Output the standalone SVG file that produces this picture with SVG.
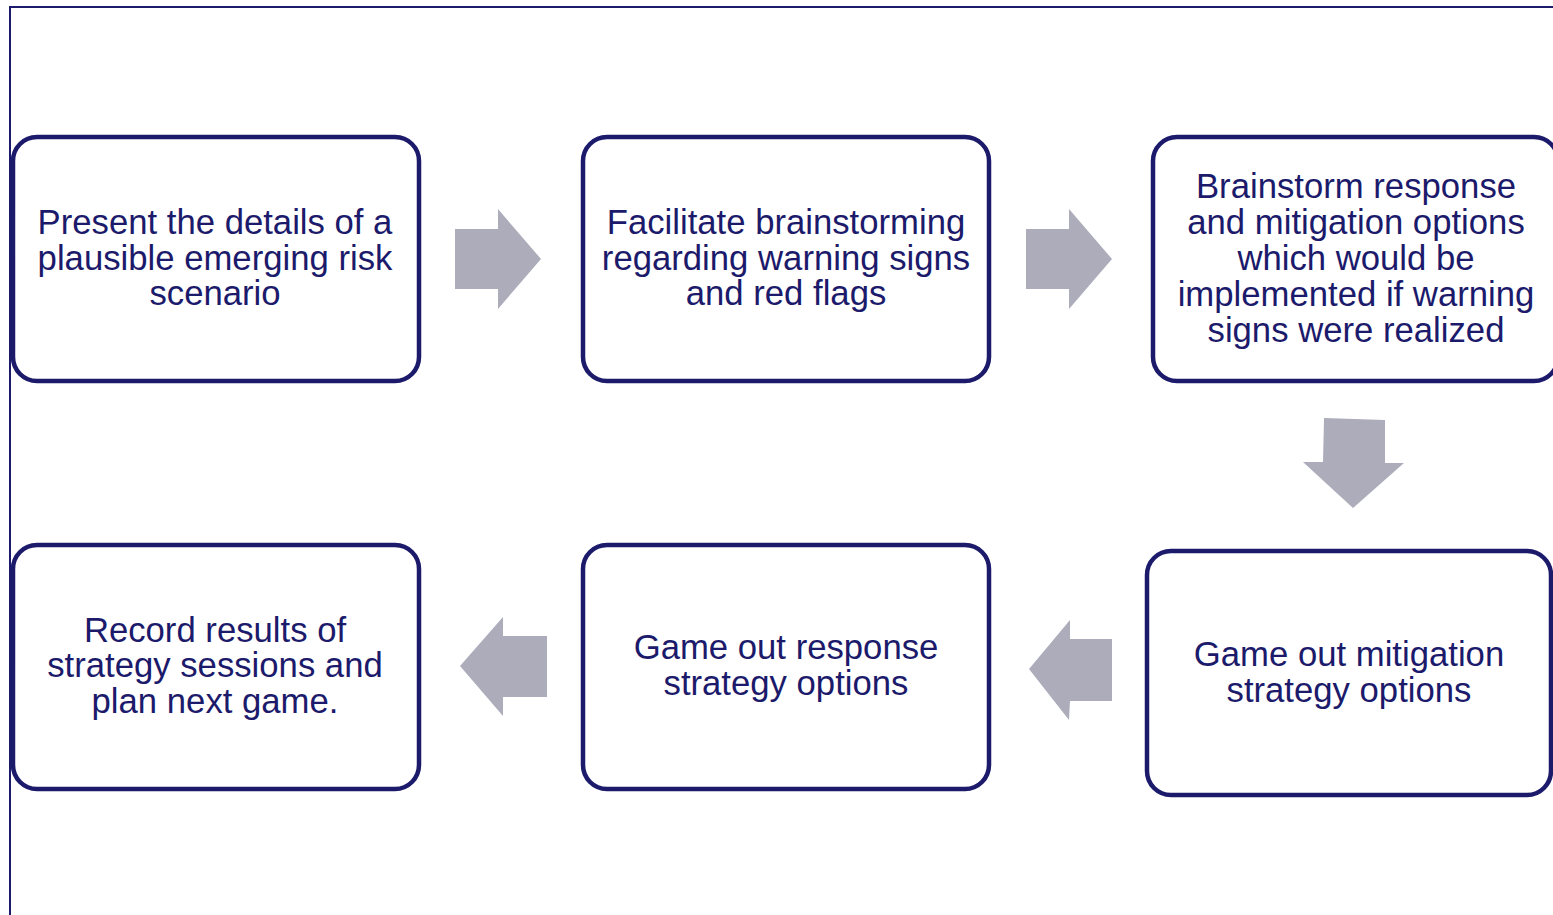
<svg xmlns="http://www.w3.org/2000/svg" width="1553" height="915" viewBox="0 0 1553 915">
  <style>
    .box { fill: #ffffff; stroke: #1c1a6b; stroke-width: 4.5; }
    .lbl { font-family: "Liberation Sans", Arial, sans-serif; font-size: 34.7px; fill: #1c1a6b; text-anchor: middle; }
    .arrow { fill: #acacbb; stroke: none; }
    .frame { fill: none; stroke: #1c1a6b; stroke-width: 2; }
  </style>
  <rect x="0" y="0" width="1553" height="915" fill="#ffffff"/>
  <!-- outer frame (open to the right and bottom) -->
  <path class="frame" d="M10,915 V7 H1553"/>

  <g id="connectors">
    <polygon class="arrow" points="455,229 498,229 498,209 541,259 498,309 498,289 455,289"/>
    <polygon class="arrow" points="1026,229 1069,229 1069,209 1112,259 1069,309 1069,289 1026,289"/>
    <polygon class="arrow" points="1324,418 1385,420 1385,463 1404,463 1353,508 1303,462 1323,462"/>
    <polygon class="arrow" points="1112,639 1112,701 1070,701 1069,720 1029,669 1070,620 1070,639"/>
    <polygon class="arrow" points="547,636 547,697 503,697 503,716 460,666 503,617 503,636"/>
  </g>

  <g id="node1">
    <rect class="box" x="13" y="137" width="406" height="244" rx="24"/>
    <text class="lbl" x="215" y="234">Present the details of a</text>
    <text class="lbl" x="215" y="270">plausible emerging risk</text>
    <text class="lbl" x="215" y="305">scenario</text>
  </g>
  <g id="node2">
    <rect class="box" x="583" y="137" width="406" height="244" rx="24"/>
    <text class="lbl" x="786" y="234">Facilitate brainstorming</text>
    <text class="lbl" x="786" y="270">regarding warning signs</text>
    <text class="lbl" x="786" y="305">and red flags</text>
  </g>
  <g id="node3">
    <rect class="box" x="1153" y="137" width="405" height="244" rx="24"/>
    <text class="lbl" x="1356" y="198">Brainstorm response</text>
    <text class="lbl" x="1356" y="234">and mitigation options</text>
    <text class="lbl" x="1356" y="270">which would be</text>
    <text class="lbl" x="1356" y="306">implemented if warning</text>
    <text class="lbl" x="1356" y="342">signs were realized</text>
  </g>
  <g id="node4">
    <rect class="box" x="1147" y="551" width="404" height="244" rx="24"/>
    <text class="lbl" x="1349" y="666">Game out mitigation</text>
    <text class="lbl" x="1349" y="702">strategy options</text>
  </g>
  <g id="node5">
    <rect class="box" x="583" y="545" width="406" height="244" rx="24"/>
    <text class="lbl" x="786" y="659">Game out response</text>
    <text class="lbl" x="786" y="695">strategy options</text>
  </g>
  <g id="node6">
    <rect class="box" x="13" y="545" width="406" height="244" rx="24"/>
    <text class="lbl" x="215" y="642">Record results of</text>
    <text class="lbl" x="215" y="677">strategy sessions and</text>
    <text class="lbl" x="215" y="713">plan next game.</text>
  </g>
</svg>
